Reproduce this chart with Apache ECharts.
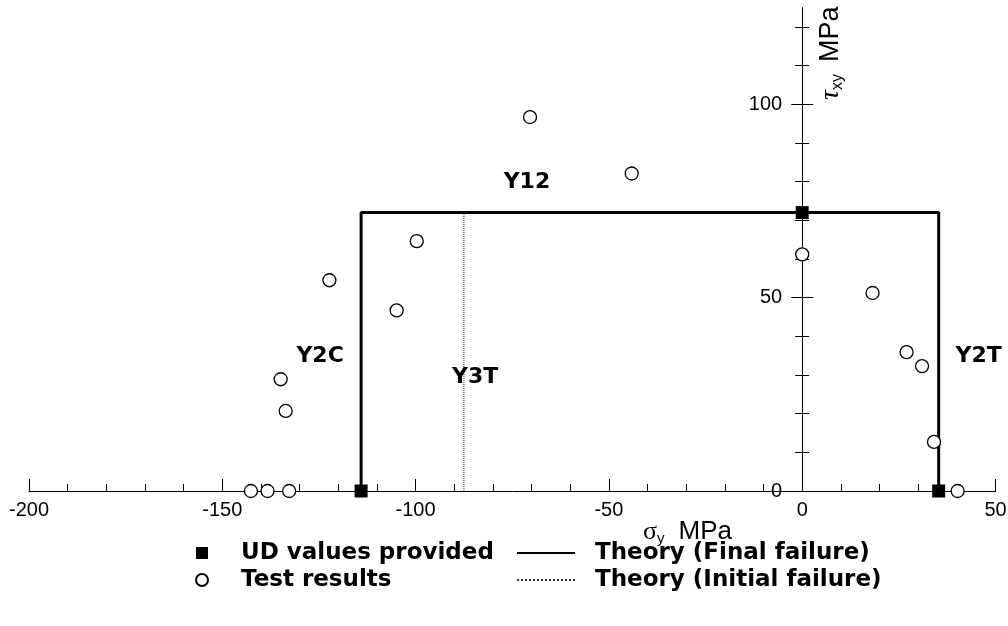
<!DOCTYPE html>
<html><head><meta charset="utf-8">
<script src="https://cdn.jsdelivr.net/npm/echarts@6/dist/echarts.min.js"></script>
<style>html,body{margin:0;padding:0;background:#fff}#c{width:1008px;height:626px}</style>
</head><body><div id="c"></div>
<script>
// ---- data ----
const udValues = [[-114.1, 0], [0, 72], [35.3, 0]];
const testResults = [
  [-70.4, 96.7], [-44.1, 82.1], [-99.7, 64.6], [-122.3, 54.5], [-104.9, 46.7],
  [-134.9, 28.9], [-133.6, 20.7], [-142.6, 0], [-138.3, 0], [-132.7, 0],
  [0, 61.2], [18.2, 51.2], [27.0, 35.9], [31.0, 32.3], [34.1, 12.7], [40.2, 0]
];
const finalFailure = [[-114.1, 0], [-114.1, 72], [35.3, 72], [35.3, 0]];
const initialFailure = [[-87.5, 0], [-87.5, 72]];
const regionLabels = [[-71.2, 79.9, 'Y12'], [-124.7, 34.9, 'Y2C'], [-84.6, 29.3, 'Y3T'], [45.65, 34.9, 'Y2T']];
const yMajorTicks = [0, 50, 100];
const yMinorTicks = [10, 20, 30, 40, 60, 70, 80, 90, 110, 120];

const X_MIN = -200, X_MAX = 50;
const GRID_LEFT = 29, GRID_RIGHT = 12.5, W = 1008;
const gridW = W - GRID_LEFT - GRID_RIGHT;
// shift the y axes so they sit at x = 0 of the x axis
const yOffset = -gridW * (0 - X_MIN) / (X_MAX - X_MIN);

const chart = echarts.init(document.getElementById('c'), null, {renderer: 'canvas'});
const black = '#000';
function yAx(ticks, inside, len, main) {
  return {
    type: 'value', min: 0, max: 125, position: 'left', offset: yOffset,
    axisLine: {show: main, onZero: false, lineStyle: {color: black, width: 1}},
    axisTick: {show: true, inside: inside, length: len, customValues: ticks, lineStyle: {color: black, width: 1}},
    axisLabel: {show: main, customValues: yMajorTicks, color: black, fontSize: 20, fontFamily: 'Liberation Sans', margin: 20},
    splitLine: {show: false}
  };
}
const legendText = {fontFamily: 'DejaVu Sans', fontWeight: 'bold', fontSize: 23, color: black, lineHeight: 26};
chart.setOption({
  animation: false,
  backgroundColor: '#fff',
  grid: {left: GRID_LEFT, right: GRID_RIGHT, top: 7.6, bottom: 135, containLabel: false, outerBoundsMode: 'none'},
  xAxis: {
    type: 'value', min: X_MIN, max: X_MAX, interval: 50,
    axisLine: {onZero: false, lineStyle: {color: black, width: 1}},
    axisTick: {inside: true, length: 12, lineStyle: {color: black, width: 1}},
    minorTick: {show: true, splitNumber: 5, length: 7, lineStyle: {color: black, width: 1}},
    axisLabel: {color: black, fontSize: 20, fontFamily: 'Liberation Sans', margin: 9},
    splitLine: {show: false}
  },
  yAxis: [
    yAx(yMajorTicks, false, 11, true),
    yAx(yMajorTicks, true, 11, false),
    yAx(yMinorTicks, false, 7, false),
    yAx(yMinorTicks, true, 7, false)
  ],
  legend: [
    {data: ['UD values provided', 'Test results'], orient: 'vertical', left: 190, top: 535,
     itemWidth: 12, itemHeight: 12, itemGap: 1, selectedMode: false,
     textStyle: Object.assign({padding: [0, 0, 0, 28]}, legendText)},
    {data: ['Theory (Final failure)', 'Theory (Initial failure)'], orient: 'vertical', left: 511, top: 535,
     itemWidth: 58, itemHeight: 12, itemGap: 1, selectedMode: false,
     itemStyle: {opacity: 0},
     textStyle: Object.assign({padding: [0, 0, 0, 15]}, legendText)}
  ],
  graphic: [
    {type: 'text', x: 643, y: 532, silent: true, style: {
      text: '{s|σ}{sub|y}{t|MPa}', verticalAlign: 'middle', align: 'left',
      rich: {
        s: {fontFamily: 'Liberation Serif', fontSize: 26, fill: black, lineHeight: 28},
        sub: {fontFamily: 'Liberation Sans', fontSize: 15, fill: black, lineHeight: 14, verticalAlign: 'bottom'},
        t: {fontFamily: 'Liberation Sans', fontSize: 26, fill: black, lineHeight: 28, padding: [0, 0, 0, 14]}
      }}},
    {type: 'text', x: 831, y: 100, rotation: Math.PI / 2, silent: true, style: {
      text: '{s|τ}{sub|xy}{t|MPa}', verticalAlign: 'middle', align: 'left',
      rich: {
        s: {fontFamily: 'Liberation Serif', fontStyle: 'italic', fontSize: 28, fill: black, lineHeight: 30},
        sub: {fontFamily: 'Liberation Sans', fontSize: 16, fill: black, lineHeight: 15, verticalAlign: 'bottom'},
        t: {fontFamily: 'Liberation Sans', fontSize: 27, fill: black, lineHeight: 30, padding: [0, 0, 0, 12]}
      }}}
  ],
  series: [
    {name: 'Theory (Final failure)', type: 'line', data: finalFailure, symbol: 'none',
     lineStyle: {color: black, width: 3}, itemStyle: {color: black}, z: 2, silent: true},
    {name: 'Theory (Initial failure)', type: 'line', data: initialFailure, symbol: 'none',
     lineStyle: {color: '#333', width: 1, type: 'dotted'}, itemStyle: {color: '#333'}, z: 2, silent: true},
    {name: 'UD values provided', type: 'scatter', data: udValues, symbol: 'rect', symbolSize: 13,
     itemStyle: {color: black, opacity: 1}, z: 4, silent: true},
    {name: 'Test results', type: 'scatter', data: testResults, symbol: 'circle', symbolSize: 13,
     itemStyle: {color: '#fff', borderColor: black, borderWidth: 1.3, opacity: 1}, z: 3, silent: true},
    {name: 'labels', type: 'scatter', data: regionLabels, symbolSize: 1, silent: true, z: 5,
     itemStyle: {color: 'rgba(255,255,255,0)', opacity: 1},
     label: {show: true, position: 'inside', formatter: p => p.value[2], opacity: 1,
       fontFamily: 'DejaVu Sans', fontWeight: 'bold', fontSize: 22, color: '#000'}}
  ]
});
</script></body></html>
